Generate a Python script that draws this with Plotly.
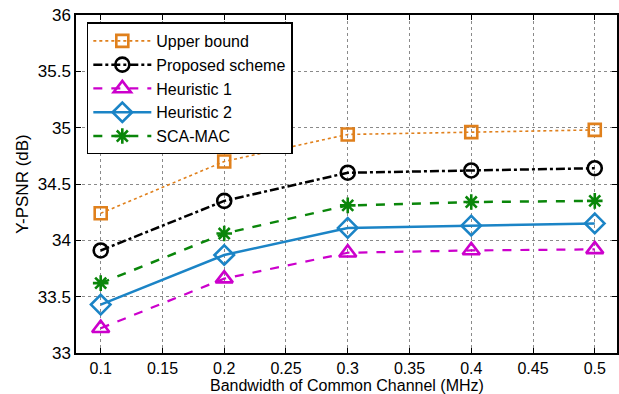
import plotly.graph_objects as go

# Bandwidth of the common channel (MHz)
bandwidth = [0.1, 0.2, 0.3, 0.4, 0.5]

# Y-PSNR (dB) for each scheme
upper_bound = [34.24, 34.70, 34.94, 34.96, 34.98]
proposed = [33.91, 34.35, 34.60, 34.62, 34.64]
heuristic_1 = [33.22, 33.66, 33.89, 33.91, 33.92]
heuristic_2 = [33.43, 33.87, 34.11, 34.13, 34.15]
sca_mac = [33.62, 34.06, 34.31, 34.34, 34.35]

x_ticks = [0.1, 0.15, 0.2, 0.25, 0.3, 0.35, 0.4, 0.45, 0.5]
x_tick_text = ["0.1", "0.15", "0.2", "0.25", "0.3", "0.35", "0.4", "0.45", "0.5"]
y_ticks = [33, 33.5, 34, 34.5, 35, 35.5, 36]
y_tick_text = ["33", "33.5", "34", "34.5", "35", "35.5", "36"]

x_title = "Bandwidth of Common Channel (MHz)"
y_title = "Y-PSNR (dB)"

series = [
    ("Upper bound", upper_bound, "#E0801C", "dot", 1.6, "square-open", 12),
    ("Proposed scheme", proposed, "#000000", "dashdot", 2.5, "circle-open", 14),
    ("Heuristic 1", heuristic_1, "#CC00CC", "dash", 2.2, "triangle-up-open", 15),
    ("Heuristic 2", heuristic_2, "#1B84C6", "solid", 2.5, "diamond-open", 15),
    ("SCA-MAC", sca_mac, "#0A860A", "dash", 2.5, "asterisk-open", 13),
]

fig = go.Figure()
for name, values, color, dash, lw, symbol, size in series:
    fig.add_trace(go.Scatter(
        x=bandwidth, y=values, name=name, mode="lines+markers",
        line=dict(color=color, dash=dash, width=lw),
        marker=dict(symbol=symbol, size=size, color=color,
                    line=dict(color=color, width=2.6)),
    ))

base_font = "Liberation Sans, Arial, sans-serif"
tick_font = dict(family=base_font, size=16, color="#000000")

# x-axis title sits at the bottom edge of the page, below the tick labels
fig.add_annotation(
    text=x_title, xref="paper", yref="paper", x=0.5, y=-41 / 338.6,
    xanchor="center", yanchor="bottom", yshift=-2, showarrow=False,
    font=dict(family=base_font, size=16, color="#000000"),
)

fig.update_layout(
    width=619, height=394,
    margin=dict(l=76, r=0, t=15, b=41),
    paper_bgcolor="white", plot_bgcolor="white",
    font=dict(family=base_font, size=16, color="#000000"),
    showlegend=True,
    legend=dict(
        x=0.02, y=0.978, xanchor="left", yanchor="top",
        bgcolor="white", bordercolor="#000000", borderwidth=1.5,
        font=dict(family=base_font, size=16, color="#000000"),
        tracegroupgap=0, itemwidth=58,
    ),
    xaxis=dict(
        range=[0.08, 0.518], tickvals=x_ticks, ticktext=x_tick_text,
        tickfont=tick_font,
        showline=True, linecolor="#000000", linewidth=1.5, mirror="ticks",
        ticks="inside", ticklen=5, tickcolor="#000000",
        showgrid=True, gridcolor="#8a8a8a", griddash="dot", gridwidth=1,
        zeroline=False,
    ),
    yaxis=dict(
        range=[33, 36], tickvals=y_ticks, ticktext=y_tick_text,
        tickfont=dict(family=base_font, size=17, color="#000000"),
        showline=True, linecolor="#000000", linewidth=1.5, mirror="ticks",
        ticks="inside", ticklen=5, tickcolor="#000000",
        showgrid=True, gridcolor="#8a8a8a", griddash="dot", gridwidth=1,
        zeroline=False,
        title=dict(text=y_title, standoff=5,
                   font=dict(family=base_font, size=17, color="#000000")),
    ),
)

fig.write_html("out.html")
